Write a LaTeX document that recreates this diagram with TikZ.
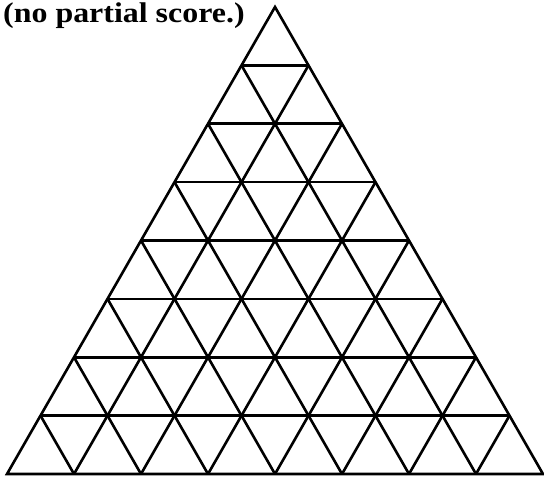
\documentclass[tikz,border=0pt]{standalone}
\usepackage{fontspec}
\setmainfont{Liberation Serif}
\usetikzlibrary{calc}
\tikzset{gridline/.style={line width=2.6pt,line join=miter,line cap=butt},
myscore/.style={font=\bfseries\fontsize{28.5}{32}\selectfont,inner sep=0pt,anchor=base west}}
\begin{document}
\begin{tikzpicture}[x=1pt,y=-1pt]
\useasboundingbox (0,0) rectangle (544,478);
\coordinate (A) at (275,7);
\coordinate (B) at (7,474);
\coordinate (C) at (543,474);
\node[myscore] (note) at (3,23){\scalebox{1.12}[1]{(no partial score.)}};
\draw[gridline] (A) -- (B) -- (C) -- cycle;
\foreach \k in {1,...,7}{
\draw[gridline] ($(B)!\k/8!(A)$) -- ($(C)!\k/8!(A)$);
\draw[gridline] ($(B)!\k/8!(C)$) -- ($(C)!{(8-\k)/8}!(A)$);
\draw[gridline] ($(B)!\k/8!(C)$) -- ($(B)!\k/8!(A)$);
}
\end{tikzpicture}
\end{document}
